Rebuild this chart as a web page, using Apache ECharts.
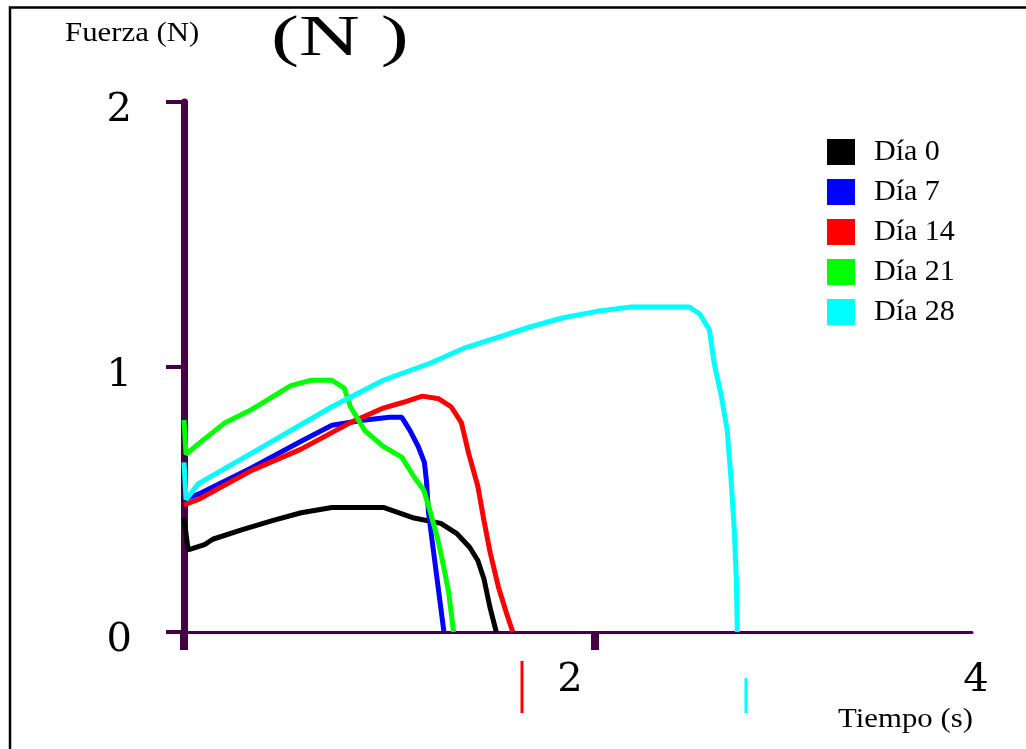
<!DOCTYPE html>
<html>
<head>
<meta charset="utf-8">
<title>Fuerza - Tiempo</title>
<script src="https://cdn.jsdelivr.net/npm/echarts@6/dist/echarts.min.js"></script>
<style>
    html, body { margin: 0; padding: 0; background: #fff; }
    #chart { width: 1026px; height: 749px; }
</style>
</head>
<body>
<div id="chart"></div>
<script>
// curvas fuerza (N) vs tiempo (s)
var seriesNames = ['Día 0', 'Día 7', 'Día 14', 'Día 21', 'Día 28'];
var seriesColors = ['#000000', '#0000ff', '#ff0000', '#00ff00', '#00ffff'];

var dia0 = [[0, 0.43], [0.02, 0.31], [0.1, 0.33], [0.14, 0.35], [0.28, 0.385], [0.43, 0.42], [0.57, 0.45],
    [0.72, 0.47], [0.97, 0.47], [1.12, 0.43], [1.25, 0.41], [1.33, 0.37], [1.39, 0.32], [1.43, 0.27],
    [1.46, 0.2], [1.49, 0.09], [1.52, 0]];
var dia7 = [[0, 0.5], [0.07, 0.52], [0.33, 0.62], [0.57, 0.72], [0.72, 0.78], [0.88, 0.8], [1.0, 0.81],
    [1.06, 0.81], [1.1, 0.76], [1.14, 0.7], [1.17, 0.64], [1.18, 0.57], [1.19, 0.45], [1.215, 0.3],
    [1.24, 0.15], [1.265, 0]];
var dia14 = [[0, 0.48], [0.07, 0.5], [0.33, 0.61], [0.57, 0.69], [0.81, 0.79], [0.97, 0.845], [1.06, 0.865],
    [1.16, 0.89], [1.24, 0.88], [1.3, 0.85], [1.35, 0.79], [1.385, 0.675], [1.43, 0.55], [1.46, 0.42],
    [1.49, 0.3], [1.53, 0.17], [1.57, 0.07], [1.6, 0]];
var dia21 = [[0, 0.8], [0.01, 0.67], [0.07, 0.71], [0.2, 0.79], [0.33, 0.84], [0.52, 0.93], [0.62, 0.95],
    [0.72, 0.95], [0.78, 0.92], [0.81, 0.85], [0.88, 0.76], [0.97, 0.7], [1.06, 0.66], [1.12, 0.585],
    [1.167, 0.535], [1.2, 0.45], [1.235, 0.35], [1.264, 0.245], [1.288, 0.15], [1.312, 0]];
var dia28 = [[0, 0.64], [0.01, 0.5], [0.07, 0.56], [0.33, 0.675], [0.72, 0.85], [0.97, 0.95], [1.2, 1.015],
    [1.36, 1.07], [1.52, 1.11], [1.68, 1.15], [1.84, 1.185], [2.01, 1.21], [2.17, 1.226], [2.46, 1.226],
    [2.51, 1.2], [2.557, 1.14], [2.58, 1.015], [2.615, 0.89], [2.644, 0.76], [2.663, 0.57], [2.678, 0.385],
    [2.688, 0.2], [2.693, 0]];
var seriesData = [dia0, dia7, dia14, dia21, dia28];

// marcas sueltas debajo del eje x: [tiempo, desde, hasta]
var redMark = [[1.645, -0.109, -0.306]];
var cyanMark = [[2.735, -0.174, -0.306]];

var xTickValues = [0, 2];
var xLabelValues = [2, 3.835];
var xTickLabels = ['2', '4'];
var yTickLabels = ['0', '1', '2'];

var axisColor = '#440044';
var serif = '"Liberation Serif", serif';
var digitFont = '"DejaVu Serif", serif';

function renderMark(params, api) {
    var p1 = api.coord([api.value(0), api.value(1)]);
    var p2 = api.coord([api.value(0), api.value(2)]);
    return {
        type: 'line',
        shape: { x1: p1[0], y1: p1[1], x2: p2[0], y2: p2[1] },
        style: { stroke: api.visual('color'), lineWidth: 3 }
    };
}

var series = [];
for (var i = 0; i < seriesNames.length; i++) {
    series.push({
        name: seriesNames[i],
        type: 'line',
        data: seriesData[i],
        showSymbol: false,
        itemStyle: { color: seriesColors[i] },
        lineStyle: { color: seriesColors[i], width: 5 },
        z: 3
    });
}
series.push({
    name: 'marcaRoja', type: 'custom', data: redMark, renderItem: renderMark,
    itemStyle: { color: '#ff0000' }, encode: { x: 0, y: [1, 2] }, z: 4
});
series.push({
    name: 'marcaCian', type: 'custom', data: cyanMark, renderItem: renderMark,
    itemStyle: { color: '#00ffff' }, encode: { x: 0, y: [1, 2] }, z: 4
});

var myChart = echarts.init(document.getElementById('chart'));
var option = {
    animation: false,
    backgroundColor: '#ffffff',
    grid: { left: 184, right: 54, top: 102, bottom: 117 },
    legend: {
        data: seriesNames,
        orient: 'vertical',
        left: 827,
        top: 137,
        padding: 0,
        icon: 'rect',
        itemWidth: 28,
        itemHeight: 26,
        itemGap: 10,
        selectedMode: false,
        textStyle: { fontFamily: serif, fontSize: 30, color: '#000', padding: [0, 0, 0, 14] }
    },
    xAxis: {
        type: 'value',
        min: 0,
        max: 3.835,
        interval: 2,
        splitLine: { show: false },
        axisLine: { lineStyle: { color: axisColor, width: 3 } },
        axisTick: { customValues: xTickValues, length: 18, lineStyle: { color: axisColor, width: 8 } },
        axisLabel: {
            customValues: xLabelValues,
            margin: 29,
            fontFamily: digitFont,
            fontSize: 40,
            color: '#000',
            formatter: function (value) {
                var k = xLabelValues.indexOf(value);
                return k === 0 ? '{a|' + xTickLabels[0] + '}' : '{b|' + xTickLabels[1] + '}';
            },
            rich: {
                a: { fontFamily: digitFont, fontSize: 40, padding: [0, 50, 0, 0] },
                b: { fontFamily: digitFont, fontSize: 40, padding: [0, 0, 0, 8] }
            }
        }
    },
    yAxis: {
        type: 'value',
        min: 0,
        max: 2,
        interval: 1,
        splitLine: { show: false },
        axisLine: { show: true, lineStyle: { color: axisColor, width: 7 } },
        axisTick: { show: true, length: 18, lineStyle: { color: axisColor, width: 4 } },
        axisLabel: {
            margin: 52,
            color: '#000',
            formatter: function (value) { return '{d|' + yTickLabels[Math.round(value)] + '}'; },
            rich: {
                d: { fontFamily: digitFont, fontSize: 40, color: '#000', padding: [18, 0, 0, 0] }
            }
        }
    },
    graphic: [
        {
            type: 'rect', silent: true,
            shape: { x: 10, y: 7.5, width: 1200, height: 900 },
            style: { fill: null, stroke: '#000', lineWidth: 2.5 }
        },
        {
            type: 'text', x: 65, y: 34, scaleX: 1.1,
            style: { text: 'Fuerza (N)', font: '28px ' + serif, fill: '#000', verticalAlign: 'middle' }
        },
        {
            type: 'text', x: 271, y: 40, scaleX: 1.45,
            style: { text: '(N )', font: '58px ' + serif, fill: '#000', verticalAlign: 'middle' }
        },
        {
            type: 'text', x: 838, y: 720, scaleX: 1.1,
            style: { text: 'Tiempo (s)', font: '28px ' + serif, fill: '#000', verticalAlign: 'middle' }
        }
    ],
    series: series
};
myChart.setOption(option);
</script>
</body>
</html>
